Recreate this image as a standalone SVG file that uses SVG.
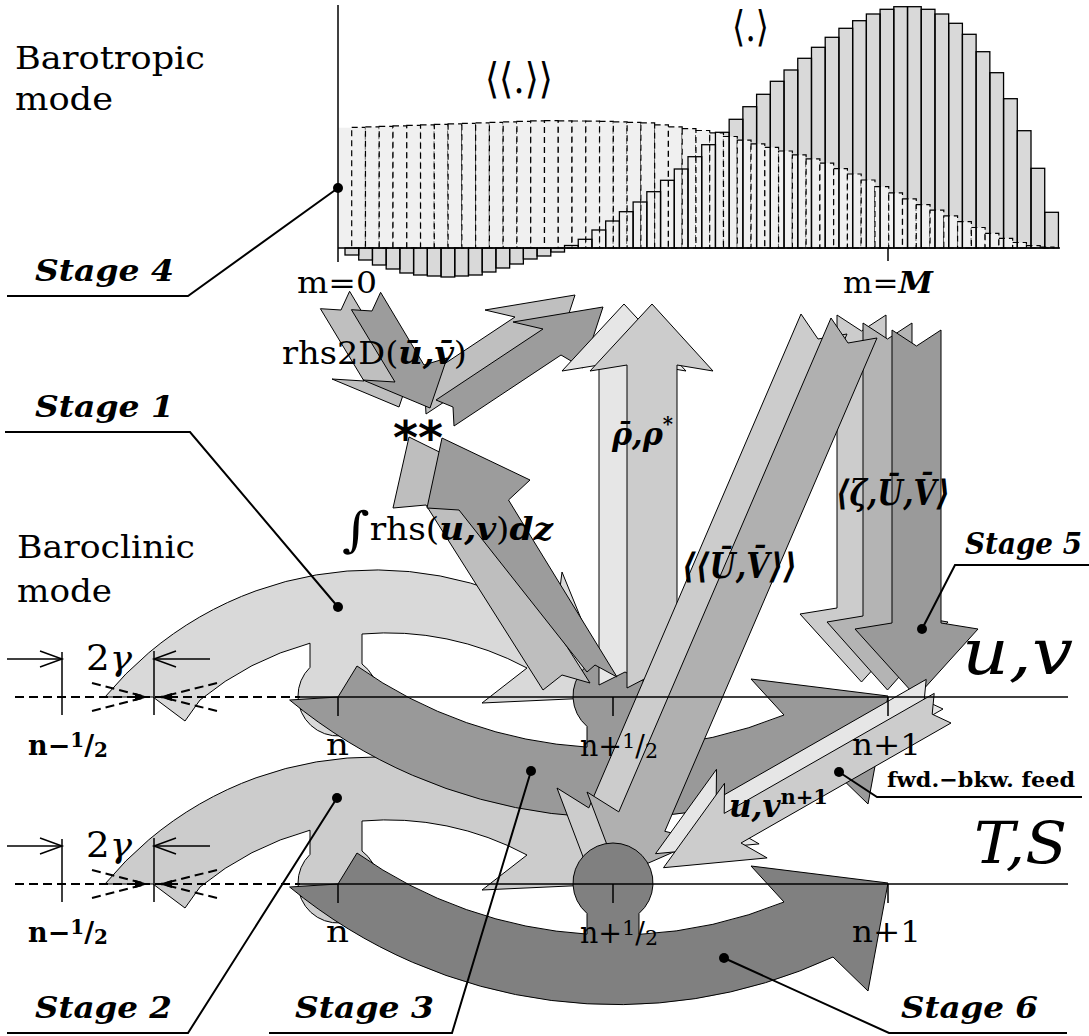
<svg xmlns="http://www.w3.org/2000/svg" xmlns:xlink="http://www.w3.org/1999/xlink" width="1089" height="1036" viewBox="0 0 1089 1036">
<style>
text{font-family:"DejaVu Serif","Liberation Serif",serif;fill:#000}
.st{font-weight:bold;font-style:italic;font-size:29px}
.mi{font-style:italic;font-weight:bold}
.ar{stroke:#000;stroke-width:1}
.ln{stroke:#000;stroke-width:1.5;fill:none}
.ld{fill:none;stroke:#000;stroke-width:2}
.dsh{stroke:#000;stroke-width:2;stroke-dasharray:9,5;fill:none}
.db{fill:#f0f0f0;stroke:#000;stroke-width:1.2;stroke-dasharray:6,4}
</style>
<defs>
<g id="sb">
<rect x="345" y="248" width="13.72" height="7"/>
<rect x="358.72" y="248" width="13.72" height="12"/>
<rect x="372.44" y="248" width="13.72" height="17"/>
<rect x="386.16" y="248" width="13.72" height="21"/>
<rect x="399.88" y="248" width="13.72" height="25"/>
<rect x="413.6" y="248" width="13.72" height="27"/>
<rect x="427.32" y="248" width="13.72" height="28"/>
<rect x="441.04" y="248" width="13.72" height="29"/>
<rect x="454.76" y="248" width="13.72" height="28"/>
<rect x="468.48" y="248" width="13.72" height="27"/>
<rect x="482.2" y="248" width="13.72" height="24"/>
<rect x="495.92" y="248" width="13.72" height="20"/>
<rect x="509.64" y="248" width="13.72" height="16"/>
<rect x="523.36" y="248" width="13.72" height="11"/>
<rect x="537.08" y="248" width="13.72" height="8"/>
<rect x="550.8" y="248" width="13.72" height="4"/>
<rect x="564.52" y="245.5" width="13.72" height="2.5"/>
<rect x="578.24" y="239.3" width="13.72" height="8.7"/>
<rect x="591.96" y="230" width="13.72" height="18"/>
<rect x="605.68" y="221" width="13.72" height="27"/>
<rect x="619.4" y="211.7" width="13.72" height="36.3"/>
<rect x="633.12" y="202" width="13.72" height="46"/>
<rect x="646.84" y="191.7" width="13.72" height="56.3"/>
<rect x="660.56" y="180.3" width="13.72" height="67.7"/>
<rect x="674.28" y="169" width="13.72" height="79"/>
<rect x="688" y="156.7" width="13.72" height="91.3"/>
<rect x="701.72" y="144.7" width="13.72" height="103.3"/>
<rect x="715.44" y="132.3" width="13.72" height="115.7"/>
<rect x="729.16" y="119.3" width="13.72" height="128.7"/>
<rect x="742.88" y="106.7" width="13.72" height="141.3"/>
<rect x="756.6" y="94.3" width="13.72" height="153.7"/>
<rect x="770.32" y="81.3" width="13.72" height="166.7"/>
<rect x="784.04" y="70" width="13.72" height="178"/>
<rect x="797.76" y="58.3" width="13.72" height="189.7"/>
<rect x="811.48" y="47.3" width="13.72" height="200.7"/>
<rect x="825.2" y="37.3" width="13.72" height="210.7"/>
<rect x="838.92" y="28.3" width="13.72" height="219.7"/>
<rect x="852.64" y="20.7" width="13.72" height="227.3"/>
<rect x="866.36" y="14" width="13.72" height="234"/>
<rect x="880.08" y="9.3" width="13.72" height="238.7"/>
<rect x="893.8" y="6.7" width="13.72" height="241.3"/>
<rect x="907.52" y="6.7" width="13.72" height="241.3"/>
<rect x="921.24" y="9.3" width="13.72" height="238.7"/>
<rect x="934.96" y="14" width="13.72" height="234"/>
<rect x="948.68" y="23.3" width="13.72" height="224.7"/>
<rect x="962.4" y="34.3" width="13.72" height="213.7"/>
<rect x="976.12" y="51.7" width="13.72" height="196.3"/>
<rect x="989.84" y="72.7" width="13.72" height="175.3"/>
<rect x="1003.56" y="98.7" width="13.72" height="149.3"/>
<rect x="1017.28" y="130.7" width="13.72" height="117.3"/>
<rect x="1031" y="168.3" width="13.72" height="79.7"/>
<rect x="1044.72" y="212.3" width="13.72" height="35.7"/>
</g>
</defs>
<rect x="0" y="0" width="1089" height="1036" fill="#fff"/>

<g id="histogram">
<rect x="338" y="127.7" width="13.7" height="120.3" fill="#f0f0f0"/>
<use xlink:href="#sb" href="#sb" fill="#d9d9d9" stroke="none"/>
<g id="dashed-bars" class="db">
<rect x="351.7" y="127.4" width="13.77" height="120.6"/>
<rect x="365.47" y="126.9" width="13.77" height="121.1"/>
<rect x="379.24" y="126.4" width="13.77" height="121.6"/>
<rect x="393.01" y="125.9" width="13.77" height="122.1"/>
<rect x="406.78" y="125.4" width="13.77" height="122.6"/>
<rect x="420.55" y="124.9" width="13.77" height="123.1"/>
<rect x="434.32" y="124.3" width="13.77" height="123.7"/>
<rect x="448.09" y="123.8" width="13.77" height="124.2"/>
<rect x="461.86" y="123.3" width="13.77" height="124.7"/>
<rect x="475.63" y="122.8" width="13.77" height="125.2"/>
<rect x="489.4" y="122.3" width="13.77" height="125.7"/>
<rect x="503.17" y="121.8" width="13.77" height="126.2"/>
<rect x="516.94" y="121.3" width="13.77" height="126.7"/>
<rect x="530.71" y="120.8" width="13.77" height="127.2"/>
<rect x="544.48" y="120.6" width="13.77" height="127.4"/>
<rect x="558.25" y="120.8" width="13.77" height="127.2"/>
<rect x="572.02" y="121" width="13.77" height="127"/>
<rect x="585.79" y="121.2" width="13.77" height="126.8"/>
<rect x="599.56" y="121.4" width="13.77" height="126.6"/>
<rect x="613.33" y="121.8" width="13.77" height="126.2"/>
<rect x="627.1" y="122.4" width="13.77" height="125.6"/>
<rect x="640.87" y="122.9" width="13.77" height="125.1"/>
<rect x="654.64" y="124.8" width="13.77" height="123.2"/>
<rect x="668.41" y="126.8" width="13.77" height="121.2"/>
<rect x="682.18" y="128.7" width="13.77" height="119.3"/>
<rect x="695.95" y="130.5" width="13.77" height="117.5"/>
<rect x="709.72" y="132.9" width="13.77" height="115.1"/>
<rect x="723.49" y="136.5" width="13.77" height="111.5"/>
<rect x="737.26" y="140.1" width="13.77" height="107.9"/>
<rect x="751.03" y="143.8" width="13.77" height="104.2"/>
<rect x="764.8" y="147.4" width="13.77" height="100.6"/>
<rect x="778.57" y="151" width="13.77" height="97"/>
<rect x="792.34" y="154.9" width="13.77" height="93.1"/>
<rect x="806.11" y="158.8" width="13.77" height="89.2"/>
<rect x="819.88" y="163.2" width="13.77" height="84.8"/>
<rect x="833.65" y="168.6" width="13.77" height="79.4"/>
<rect x="847.42" y="174" width="13.77" height="74"/>
<rect x="861.19" y="180" width="13.77" height="68"/>
<rect x="874.96" y="186.6" width="13.77" height="61.4"/>
<rect x="888.73" y="192.8" width="13.77" height="55.2"/>
<rect x="902.5" y="198.8" width="13.77" height="49.2"/>
<rect x="916.27" y="204.6" width="13.77" height="43.4"/>
<rect x="930.04" y="210.1" width="13.77" height="37.9"/>
<rect x="943.81" y="215.8" width="13.77" height="32.2"/>
<rect x="957.58" y="221.7" width="13.77" height="26.3"/>
<rect x="971.35" y="227.5" width="13.77" height="20.5"/>
<rect x="985.12" y="233.3" width="13.77" height="14.7"/>
<rect x="998.89" y="238.4" width="13.77" height="9.6"/>
<rect x="1012.66" y="242.5" width="13.77" height="5.5"/>
<rect x="1026.43" y="245.6" width="13.77" height="2.4"/>
<rect x="1040.2" y="247.2" width="13.77" height="0.8"/>
</g>
<use xlink:href="#sb" href="#sb" fill="none" stroke="#000" stroke-width="1.3"/>
<line class="ln" x1="338" y1="5" x2="338" y2="262"/>
<line class="ln" x1="338" y1="248" x2="1060" y2="248"/>
<line class="ln" x1="888" y1="248" x2="888" y2="261"/>
</g>

<g id="stage2-band" transform="translate(0,187)">
<path class="ar" fill="#cccccc" d="M105,697 A351,351 0 0 1 556,620 L562,572 L613,697 L482,703 L527,668 A295,295 0 0 0 362,634 L362,664 A40,40 0 1 1 310,667.4 L310,643.2 A295,295 0 0 0 200,700 L185,721 L153,697 Z"/>
</g>
<g id="stage1-band">
<path class="ar" fill="#d9d9d9" d="M105,697 A351,351 0 0 1 556,620 L562,572 L613,697 L482,703 L527,668 A295,295 0 0 0 362,634 L362,664 A40,40 0 1 1 310,667.4 L310,643.2 A295,295 0 0 0 200,700 L185,721 L153,697 Z"/>
</g>
<g id="stage3-band">
<path class="ar" fill="#999999" d="M289.6,700 L338,697 L357,666 A446,446 0 0 0 587,747.1 L587,726.4 A40,40 0 1 1 639,726.4 L639,747.4 A446,446 0 0 0 784,715 L751,679 L888,696 L868,804 L833,770 A514,514 0 0 1 289.6,700 Z"/>
</g>

<g id="connectors">
<polygon class="ar" fill="#bfbfbf" points="408,388 515,317 485,310 575,295 555,356 533,343 426,414 425,395"/>
<polygon class="ar" fill="#9c9c9c" points="436,400 543,329 513,322 603,307 583,368 561,355 454,426 453,407"/>
<polygon class="ar" fill="#bfbfbf" points="349.6,291.3 393,364 416,357 399,407 332,379 364,381 320.4,308.7 341,310"/>
<polygon class="ar" fill="#9c9c9c" points="380.6,292.3 424,365 447,358 430,408 363,380 395,382 351.4,309.7 372,311"/>
<polygon class="ar" fill="#e6e6e6" points="599,685 599,365 562,371 624,304 686,371 651,365 651,685 625,672"/>
<polygon class="ar" fill="#cccccc" points="627,688 627,365 590,371 652,304 713,371 677,365 677,688 652,675"/>
<polygon class="ar" fill="#bebebe" points="590,683 474,500 496,480 409,437 393,508 426,505 543,690 562,675"/>
<polygon class="ar" fill="#9c9c9c" points="617,677 508.5,500 530,480 442,438 427,508 459,510 587,672 595,665"/>
<polygon class="ar" fill="#cccccc" points="837,315 837,608 800,614 861.5,682 923,614 886,608 886,315 861.5,331"/>
<polygon class="ar" fill="#b4b4b4" points="863,323 863,616 827,622 887.5,690 948,622 912,616 912,323 887.5,339"/>
<polygon class="ar" fill="#9a9a9a" points="892,330 892,623 855,629 916.5,697 978,629 941,623 941,330 916.5,346"/>
<polygon class="ar" fill="#cccccc" points="801,314 588.8,807.9 557,788 588.8,872 671,836 634.8,827.3 847,334 818,339"/>
<polygon class="ar" fill="#b0b0b0" points="831,318 618.8,811.9 587,792 618.8,876 701,840 664.8,831.3 877,338 848,343"/>
<polygon class="ar" fill="#e6e6e6" points="926.2,679.4 716.2,799.4 716.5,769.3 655.5,853.7 759.1,843.9 733,829 943,709 924.2,700.2"/>
<polygon class="ar" fill="#cccccc" points="934.2,693.4 724.2,813.4 724.5,783.3 663.5,867.7 767.1,857.9 741,843 951,723 932.2,714.2"/>
</g>

<g id="stage6-band" transform="translate(0,187)">
<path class="ar" fill="#808080" d="M289.6,700 L338,697 L357,666 A446,446 0 0 0 587,747.1 L587,726.4 A40,40 0 1 1 639,726.4 L639,747.4 A446,446 0 0 0 784,715 L751,679 L888,696 L868,804 L833,770 A514,514 0 0 1 289.6,700 Z"/>
</g>

<g id="time-axis-uv">
<line class="dsh" x1="15" y1="697" x2="300" y2="697"/>
<line class="ln" x1="300" y1="697" x2="1068" y2="697"/>
<line class="ln" x1="338" y1="697" x2="338" y2="716"/>
<line class="ln" x1="613" y1="697" x2="613" y2="716"/>
<line class="ln" x1="888" y1="697" x2="888" y2="716"/>
<line class="ln" x1="62" y1="652" x2="62" y2="715"/>
<line class="ln" x1="154" y1="651" x2="154" y2="715"/>
<polyline class="ln" points="7,659 62,659"/>
<polyline class="ln" points="40,651 62,659 40,667"/>
<polyline class="ln" points="210,659 154,659"/>
<polyline class="ln" points="176,651 154,659 176,667"/>
<line class="dsh" x1="92" y1="683" x2="146" y2="697"/>
<line class="dsh" x1="92" y1="711" x2="146" y2="697"/>
<line class="dsh" x1="217" y1="683" x2="161" y2="697"/>
<line class="dsh" x1="217" y1="711" x2="161" y2="697"/>
<polygon points="135,693 148,697 135,701" fill="#000"/>
<polygon points="172,693 159,697 172,701" fill="#000"/>
<text x="86" y="670" font-size="36" textLength="46" lengthAdjust="spacingAndGlyphs">2<tspan font-style="italic">γ</tspan></text>
<text x="28" y="755" font-size="27" font-weight="bold" textLength="80" lengthAdjust="spacingAndGlyphs">n−<tspan font-size="20" dy="-8">1</tspan><tspan dy="8">/</tspan><tspan font-size="20" dy="2">2</tspan></text>
<text x="326" y="755" font-size="30" textLength="23" lengthAdjust="spacingAndGlyphs">n</text>
<text x="580" y="756" font-size="29" textLength="78" lengthAdjust="spacingAndGlyphs">n+<tspan font-size="21" dy="-8">1</tspan><tspan dy="8">/</tspan><tspan font-size="21" dy="2">2</tspan></text>
<text x="852" y="755" font-size="30" textLength="69" lengthAdjust="spacingAndGlyphs">n+1</text>
</g>

<g id="time-axis-ts" transform="translate(0,187)">
<line class="dsh" x1="15" y1="697" x2="300" y2="697"/>
<line class="ln" x1="300" y1="697" x2="1068" y2="697"/>
<line class="ln" x1="338" y1="697" x2="338" y2="716"/>
<line class="ln" x1="613" y1="697" x2="613" y2="716"/>
<line class="ln" x1="888" y1="697" x2="888" y2="716"/>
<line class="ln" x1="62" y1="652" x2="62" y2="715"/>
<line class="ln" x1="154" y1="651" x2="154" y2="715"/>
<polyline class="ln" points="7,659 62,659"/>
<polyline class="ln" points="40,651 62,659 40,667"/>
<polyline class="ln" points="210,659 154,659"/>
<polyline class="ln" points="176,651 154,659 176,667"/>
<line class="dsh" x1="92" y1="683" x2="146" y2="697"/>
<line class="dsh" x1="92" y1="711" x2="146" y2="697"/>
<line class="dsh" x1="217" y1="683" x2="161" y2="697"/>
<line class="dsh" x1="217" y1="711" x2="161" y2="697"/>
<polygon points="135,693 148,697 135,701" fill="#000"/>
<polygon points="172,693 159,697 172,701" fill="#000"/>
<text x="86" y="670" font-size="36" textLength="46" lengthAdjust="spacingAndGlyphs">2<tspan font-style="italic">γ</tspan></text>
<text x="28" y="755" font-size="27" font-weight="bold" textLength="80" lengthAdjust="spacingAndGlyphs">n−<tspan font-size="20" dy="-8">1</tspan><tspan dy="8">/</tspan><tspan font-size="20" dy="2">2</tspan></text>
<text x="326" y="755" font-size="30" textLength="23" lengthAdjust="spacingAndGlyphs">n</text>
<text x="580" y="756" font-size="29" textLength="78" lengthAdjust="spacingAndGlyphs">n+<tspan font-size="21" dy="-8">1</tspan><tspan dy="8">/</tspan><tspan font-size="21" dy="2">2</tspan></text>
<text x="852" y="755" font-size="30" textLength="69" lengthAdjust="spacingAndGlyphs">n+1</text>
</g>

<g id="labels">
<text x="15" y="69" font-size="31" textLength="190" lengthAdjust="spacingAndGlyphs">Barotropic</text>
<text x="15" y="110" font-size="31" textLength="98" lengthAdjust="spacingAndGlyphs">mode</text>
<text x="17" y="558" font-size="31" textLength="178" lengthAdjust="spacingAndGlyphs">Baroclinic</text>
<text x="17" y="602" font-size="31" textLength="95" lengthAdjust="spacingAndGlyphs">mode</text>
<text x="485" y="93" font-size="42" textLength="68" lengthAdjust="spacingAndGlyphs">⟨⟨.⟩⟩</text>
<text x="732" y="41" font-size="42" textLength="37" lengthAdjust="spacingAndGlyphs">⟨.⟩</text>
<text x="297" y="293" font-size="29" textLength="80" lengthAdjust="spacingAndGlyphs">m=0</text>
<text x="843" y="293" font-size="29" textLength="90" lengthAdjust="spacingAndGlyphs">m=<tspan class="mi">M</tspan></text>
<text x="282" y="364" font-size="31" textLength="185" lengthAdjust="spacingAndGlyphs">rhs2D(<tspan class="mi">ū,v̄</tspan>)</text>
<text x="393" y="454" font-size="46" font-weight="bold" style="font-family:'DejaVu Sans',sans-serif" textLength="50" lengthAdjust="spacingAndGlyphs">**</text>
<text x="342" y="540" font-size="31" textLength="211" lengthAdjust="spacingAndGlyphs"><tspan font-size="48" dy="6">∫</tspan><tspan dy="-6">rhs(</tspan><tspan class="mi">u,v</tspan>)<tspan class="mi">dz</tspan></text>
<text x="612" y="445" font-size="31" class="mi" textLength="61" lengthAdjust="spacingAndGlyphs">ρ̄,ρ<tspan font-size="20" dy="-14">*</tspan></text>
<text x="836" y="505" font-size="35" class="mi" textLength="114" lengthAdjust="spacingAndGlyphs">⟨ζ,Ū,V̄⟩</text>
<text x="682" y="578" font-size="35" class="mi" textLength="115" lengthAdjust="spacingAndGlyphs">⟨⟨Ū,V̄⟩⟩</text>
<text x="962" y="674" font-size="64" font-style="italic" textLength="111" lengthAdjust="spacingAndGlyphs">u,v</text>
<text x="974" y="863" font-size="58" font-style="italic" textLength="93" lengthAdjust="spacingAndGlyphs">T,S</text>
<text x="729" y="817" font-size="31" font-weight="bold" textLength="99" lengthAdjust="spacingAndGlyphs"><tspan font-style="italic">u,v</tspan><tspan font-size="21" dy="-13">n+1</tspan></text>
<text x="887" y="787" font-size="21" font-weight="bold" textLength="188" lengthAdjust="spacingAndGlyphs">fwd.−bkw. feed</text>
</g>

<g id="stage-callouts">
<text class="st" x="35" y="281" textLength="139" lengthAdjust="spacingAndGlyphs">Stage 4</text>
<polyline class="ld" points="7,296 188,296 338,188"/>
<circle cx="338" cy="188" r="5"/>
<text class="st" x="35" y="417" textLength="139" lengthAdjust="spacingAndGlyphs">Stage 1</text>
<polyline class="ld" points="5,432 190,432 338,607"/>
<circle cx="338" cy="607" r="5"/>
<text class="st" x="965" y="554" textLength="117" lengthAdjust="spacingAndGlyphs">Stage 5</text>
<polyline class="ld" points="1089,565 955,565 922,629"/>
<circle cx="922" cy="629" r="5"/>
<text class="st" x="35" y="1018" textLength="137" lengthAdjust="spacingAndGlyphs">Stage 2</text>
<polyline class="ld" points="7,1033 188,1033 337,798"/>
<circle cx="337" cy="798" r="5"/>
<text class="st" x="295" y="1018" textLength="139" lengthAdjust="spacingAndGlyphs">Stage 3</text>
<polyline class="ld" points="269,1033 452,1033 531,771"/>
<circle cx="531" cy="771" r="5"/>
<text class="st" x="901" y="1018" textLength="137" lengthAdjust="spacingAndGlyphs">Stage 6</text>
<polyline class="ld" points="1067,1033 889,1033 724,958"/>
<circle cx="724" cy="958" r="5"/>
<polyline class="ld" points="1082,797 877,797 839,772"/>
<circle cx="839" cy="772" r="5"/>
</g>
</svg>
